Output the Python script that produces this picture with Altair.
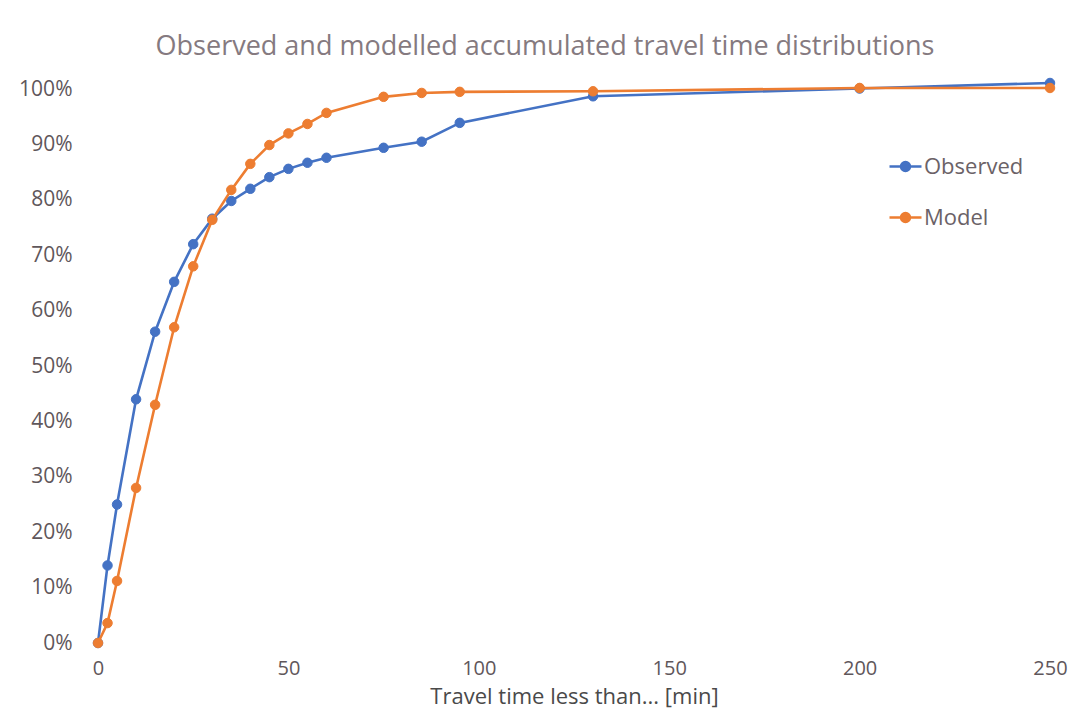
import altair as alt
import pandas as pd

# Travel time thresholds [min]
times = [0, 2.5, 5, 10, 15, 20, 25, 30, 35, 40, 45, 50, 55, 60, 75, 85, 95, 130, 200, 250]
# Accumulated share of trips (fraction)
observed = [0.0, 0.140, 0.250, 0.440, 0.562, 0.652, 0.720, 0.766, 0.798, 0.820, 0.841,
            0.856, 0.867, 0.876, 0.894, 0.905, 0.939, 0.987, 1.001, 1.011]
model = [0.0, 0.036, 0.112, 0.280, 0.430, 0.570, 0.680, 0.764, 0.818, 0.865, 0.899,
         0.920, 0.937, 0.957, 0.986, 0.993, 0.995, 0.996, 1.002, 1.002]

series_names = ["Observed", "Model"]
series_colors = ["#4472C4", "#ED7D31"]
x_ticks = [0, 50, 100, 150, 200, 250]
y_ticks = [0, 0.1, 0.2, 0.3, 0.4, 0.5, 0.6, 0.7, 0.8, 0.9, 1.0]

rows = []
for name, vals in zip(series_names, [observed, model]):
    for t, v in zip(times, vals):
        rows.append({"series": name, "time": t, "share": v})
df = pd.DataFrame(rows)

FONT = "Open Sans"
label_color = "#5f575b"

xenc = alt.X(
    "time:Q",
    scale=alt.Scale(domain=[0, 250], nice=False),
    axis=alt.Axis(values=x_ticks, title="Travel time less than... [min]", grid=False,
                  domain=False, ticks=False, labelPadding=15, titlePadding=8,
                  labelFontSize=20, titleFontSize=22, labelColor=label_color,
                  titleColor="#4a4a4a", titleFontWeight="normal", labelFont=FONT,
                  titleFont=FONT, labelFlush=False),
)
yenc = alt.Y(
    "share:Q",
    scale=alt.Scale(domain=[0, 1.02], nice=False),
    axis=alt.Axis(values=y_ticks, format=".0%", title=None, grid=False, domain=False,
                  ticks=False, labelPadding=26, minExtent=85, maxExtent=85,
                  labelFontSize=21, labelColor=label_color, labelFont=FONT),
)

scale = alt.Scale(domain=series_names, range=series_colors)
legend = alt.Legend(
    title=None, orient="none", legendX=790, legendY=71,
    symbolType="M-1,0H1M-0.28,0A0.28,0.28,0,1,1,0.28,0A0.28,0.28,0,1,1,-0.28,0Z",
    symbolSize=1024, symbolStrokeWidth=2.5, labelFontSize=22, labelColor="#6b6267",
    labelFont=FONT, labelOffset=1, rowPadding=22,
)

layers = []
for name in series_names:
    sub = alt.Chart(df).transform_filter(alt.datum.series == name)
    layers.append(
        sub.mark_line(strokeWidth=2.6, clip=False).encode(
            x=xenc, y=yenc,
            stroke=alt.Stroke("series:N", scale=scale, legend=legend),
        )
    )
    layers.append(
        sub.mark_point(filled=True, size=90, opacity=1, strokeWidth=1, clip=False).encode(
            x=xenc, y=yenc,
            fill=alt.Fill("series:N", scale=scale, legend=legend),
            stroke=alt.Stroke("series:N", scale=scale, legend=legend),
        )
    )

chart = alt.layer(*layers).properties(
    width=952,
    height=565,
    title=alt.TitleParams(
        "Observed and modelled accumulated travel time distributions",
        fontSize=27, font=FONT, fontWeight="normal", color="#857a80",
        anchor="middle", dx=-29, offset=15,
    ),
    padding={"left": 5, "top": 25, "right": 10, "bottom": 3},
).configure(background="white").configure_view(strokeWidth=0)

chart.save("out.html", embed_options={"renderer": "svg", "actions": False})
